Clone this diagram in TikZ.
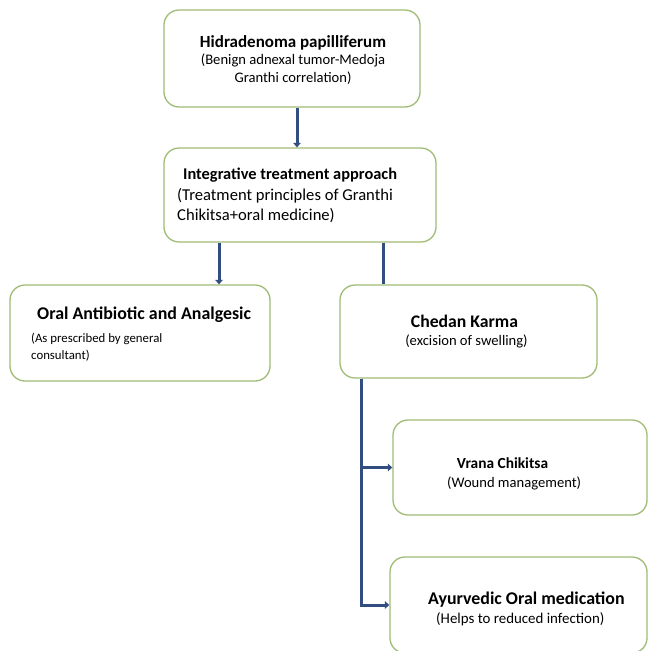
\documentclass[tikz,border=0pt]{standalone}
\usepackage{fontspec}
\setmainfont{Carlito}
\usetikzlibrary{arrows.meta}
\definecolor{boxgreen}{RGB}{160,188,118}
\definecolor{connblue}{RGB}{50,78,128}
\tikzset{
  box/.style={draw=boxgreen, line width=1.3pt, rounded corners=15pt, fill=white, inner sep=0pt},
  conn/.style={draw=connblue, line width=3pt},
  arr/.style={conn, -{Triangle[length=4.5pt,width=7.5pt]}},
  ttl/.style={inner sep=0pt, font=\bfseries\fontsize{#1}{20}\selectfont},
  ttl/.default=17,
  sub/.style={inner sep=0pt, font=\fontsize{#1}{17}\selectfont},
  sub/.default=14.6,
}
\begin{document}
\begin{tikzpicture}[x=1pt,y=-1pt]
\useasboundingbox (0,0) rectangle (649,651);
% boxes
\node[box, minimum width=256pt, minimum height=97pt] (b1) at (292,58.5) {};
\node[box, minimum width=272pt, minimum height=94pt] (b2) at (300,195) {};
\node[box, minimum width=260pt, minimum height=96pt] (b3) at (140,333) {};
\node[box, minimum width=257pt, minimum height=93pt] (b4) at (468.5,331.5) {};
\node[box, minimum width=254pt, minimum height=95pt] (b5) at (520,467.5) {};
\node[box, minimum width=257pt, minimum height=96pt] (b6) at (518.5,605) {};
% texts
\node[ttl, anchor=base] (t1a) at (293,47) {Hidradenoma papilliferum};
\node[sub, anchor=base] (t1b) at (293,64) {(Benign adnexal tumor-Medoja};
\node[sub, anchor=base] (t1c) at (293,82) {Granthi correlation)};
\node[ttl=16.4, anchor=base west] (t2a) at (183,179) {Integrative treatment approach};
\node[sub=16.6, anchor=base west] (t2b) at (177,200) {(Treatment principles of Granthi};
\node[sub=16.6, anchor=base west] (t2c) at (177,220) {Chikitsa+oral medicine)};
\node[ttl=17.9, anchor=base west] (t3a) at (37,319) {Oral Antibiotic and Analgesic};
\node[sub=12.8, anchor=base west] (t3b) at (31,342) {(As prescribed by general};
\node[sub=12.8, anchor=base west] (t3c) at (31,359) {consultant)};
\node[ttl=17.7, anchor=base] (t4a) at (464.5,327) {Chedan Karma};
\node[sub, anchor=base] (t4b) at (466.5,345) {(excision of swelling)};
\node[ttl=15.4, anchor=base] (t5a) at (502.5,468) {Vrana Chikitsa};
\node[sub, anchor=base west] (t5b) at (447,487) {(Wound management)};
\node[ttl=17.9, anchor=base west] (t6a) at (428,604) {Ayurvedic Oral medication};
\node[sub=14.9, anchor=base west] (t6b) at (436,623) {(Helps to reduced infection)};
% connectors
\draw[arr] ([xshift=5pt]b1.south) -- ([xshift=-3pt]b2.north);
\draw[arr] ([xshift=-81pt]b2.south) -- ([xshift=79pt]b3.north);
\draw[conn] ([xshift=83pt]b2.south) -- ([xshift=-85.5pt]b4.north);
\draw[arr] ([xshift=-107.5pt]b4.south) |- (b5.west);
\draw[arr] ([xshift=-107.5pt]b4.south) |- (b6.west);
\end{tikzpicture}
\end{document}
